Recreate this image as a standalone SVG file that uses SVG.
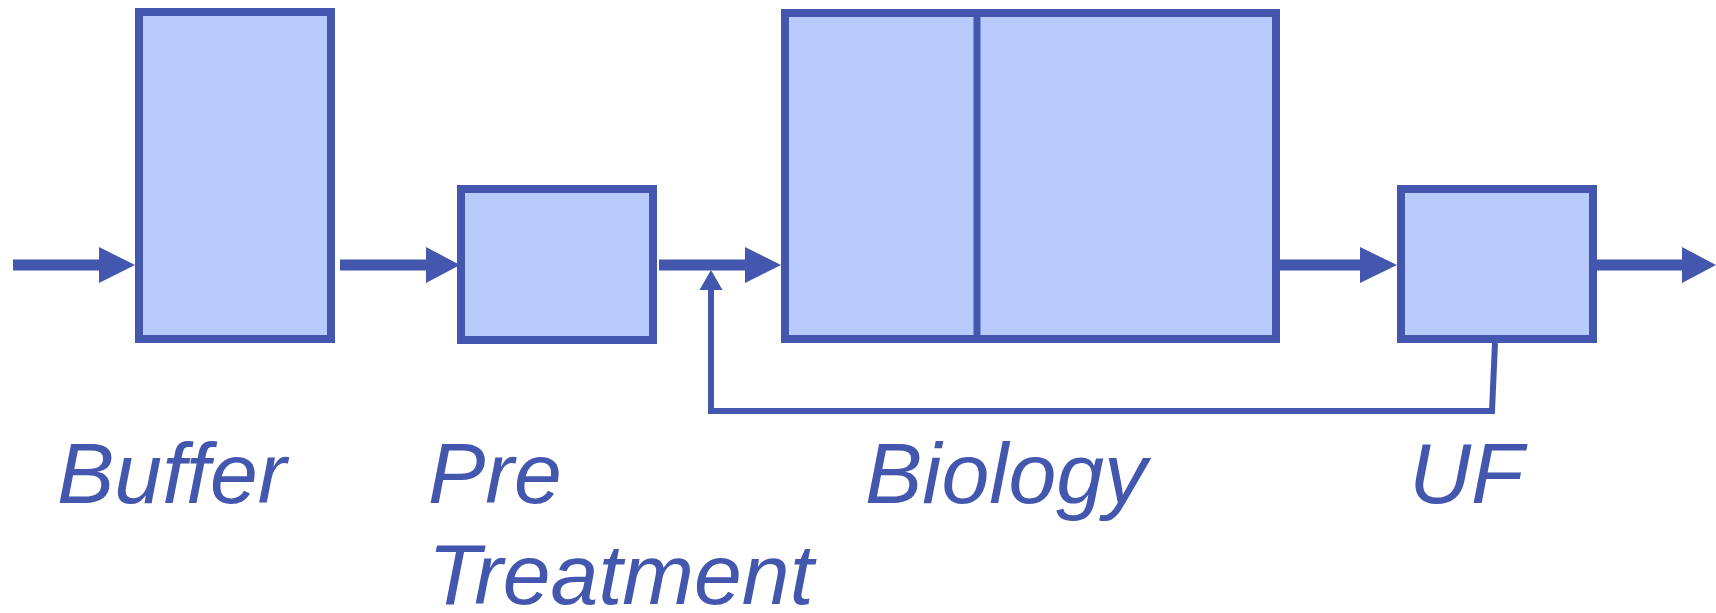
<svg xmlns="http://www.w3.org/2000/svg" width="1716" height="613" viewBox="0 0 1716 613">
<style>
.box{fill:#b9cbfc;stroke:#4257ad;stroke-width:8}
.div{stroke:#4257ad;stroke-width:7;fill:none}
.flow{stroke:#4257ad;stroke-width:11;fill:none}
.head{fill:#4257ad}
.fb{stroke:#4257ad;stroke-width:6;fill:none;stroke-linejoin:miter}
.lbl{font-family:"Liberation Sans",Arial,sans-serif;font-style:italic;font-size:86px;fill:#4257ad}
</style>
<rect width="1716" height="613" fill="#ffffff"/>
<g id="buffer">
<rect class="box" x="139" y="12" width="192" height="327"/>
<text class="lbl" x="57" y="503">Buffer</text>
</g>
<g id="pretreatment">
<rect class="box" x="461" y="189" width="192" height="151"/>
<text class="lbl" x="428" y="503">Pre</text>
<text class="lbl" x="428" y="604">Treatment</text>
</g>
<g id="biology">
<rect class="box" x="785" y="13" width="491" height="326"/>
<line class="div" x1="977" y1="13" x2="977" y2="339"/>
<text class="lbl" x="865" y="503">Biology</text>
</g>
<g id="uf">
<rect class="box" x="1401" y="189" width="192" height="150"/>
<text class="lbl" x="1409" y="503">UF</text>
</g>
<g id="connectors">
<line class="flow" x1="13" y1="265" x2="100" y2="265"/>
<polygon class="head" points="99,247 135,265 99,283"/>
<line class="flow" x1="340" y1="265" x2="427" y2="265"/>
<polygon class="head" points="426,247 460,265 426,283"/>
<line class="flow" x1="659" y1="265" x2="746" y2="265"/>
<polygon class="head" points="745,247 781,265 745,283"/>
<line class="flow" x1="1279" y1="265" x2="1361" y2="265"/>
<polygon class="head" points="1360,247 1397,265 1360,283"/>
<line class="flow" x1="1597" y1="265" x2="1683" y2="265"/>
<polygon class="head" points="1682,247 1716,265 1682,283"/>
<polyline class="fb" points="1495,343 1492,411 711,411 711,288"/>
<polygon class="head" points="711,270 722.5,290 699.5,290"/>
</g>
</svg>
